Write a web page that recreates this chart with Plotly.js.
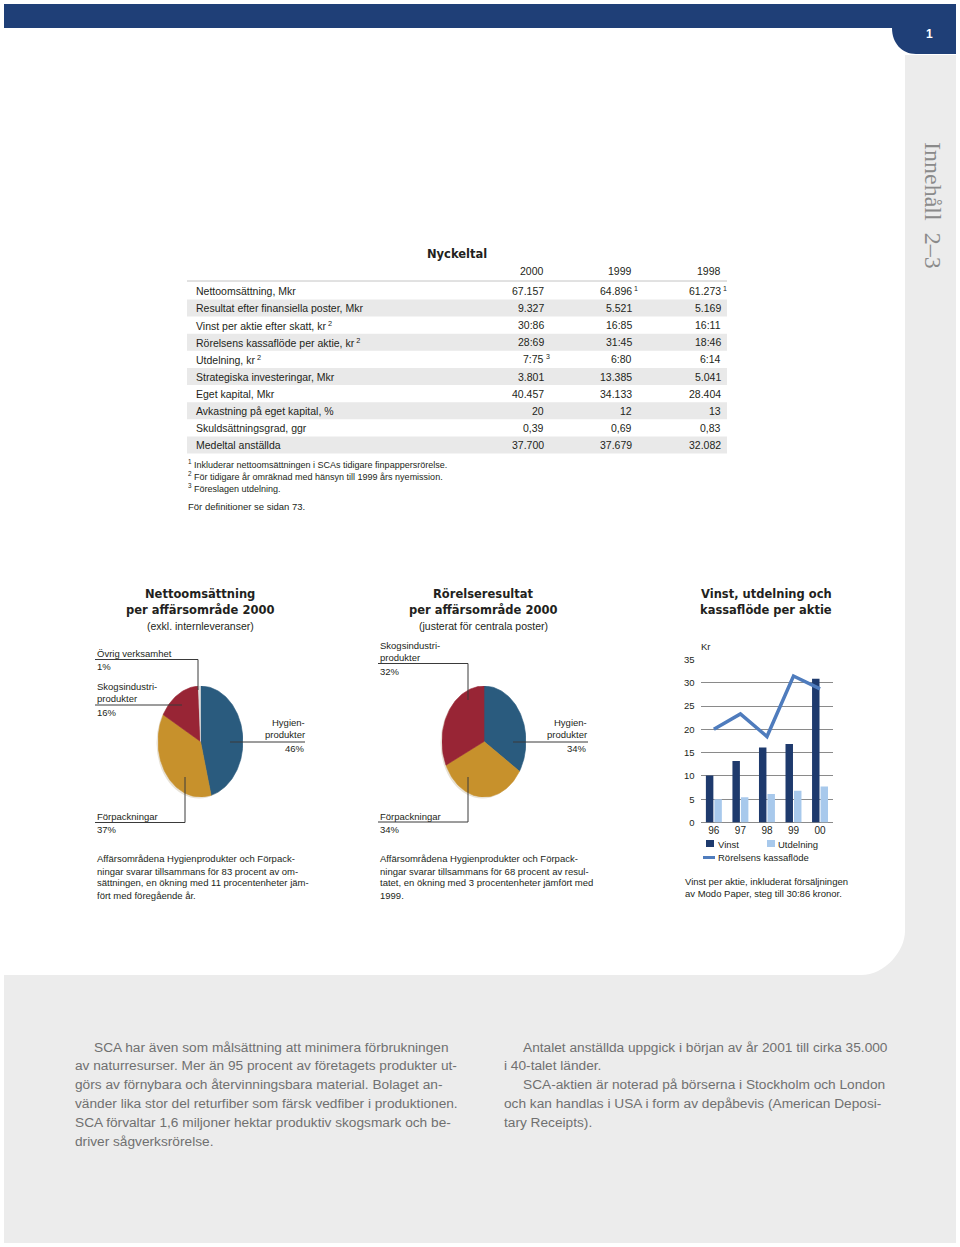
<!DOCTYPE html>
<html>
<head>
<meta charset="utf-8">
<script src="https://cdn.plot.ly/plotly-3.0.1.min.js"></script>
<style>
  html, body { margin: 0; padding: 0; background: #fff; }
  #page { width: 960px; height: 1247px; }
</style>
</head>
<body>
<div id="page"></div>
<script>
// Nyckeltal table
var years = ['2000', '1999', '1998'];
var rowLabels = [
  'Nettoomsättning, Mkr',
  'Resultat efter finansiella poster, Mkr',
  'Vinst per aktie efter skatt, kr\u2009<sup>2</sup>',
  'Rörelsens kassaflöde per aktie, kr\u2009<sup>2</sup>',
  'Utdelning, kr\u2009<sup>2</sup>',
  'Strategiska investeringar, Mkr',
  'Eget kapital, Mkr',
  'Avkastning på eget kapital, %',
  'Skuldsättningsgrad, ggr',
  'Medeltal anställda'
];
var val2000 = ['67.157', '9.327', '30:86', '28:69', '7:75', '3.801', '40.457', '20', '0,39', '37.700'];
var val1999 = ['64.896', '5.521', '16:85', '31:45', '6:80', '13.385', '34.133', '12', '0,69', '37.679'];
var val1998 = ['61.273', '5.169', '16:11', '18:46', '6:14', '5.041', '28.404', '13', '0,83', '32.082'];
var note2000 = ['', '', '', '', '3', '', '', '', '', ''];
var note1999 = ['1', '', '', '', '', '', '', '', '', ''];
var note1998 = ['1', '', '', '', '', '', '', '', '', ''];
var footnotes = [
  '<sup>1</sup> Inkluderar nettoomsättningen i SCAs tidigare finpappersrörelse.',
  '<sup>2</sup> För tidigare år omräknad med hänsyn till 1999 års nyemission.',
  '<sup>3</sup> Föreslagen utdelning.'
];

// pies
var pie1Labels = ['Hygienprodukter', 'Förpackningar', 'Skogsindustriprodukter', 'Övrig verksamhet'];
var pie1Values = [46, 37, 16, 1];
var pie2Labels = ['Hygienprodukter', 'Förpackningar', 'Skogsindustriprodukter'];
var pie2Values = [34, 34, 32];

// bars, kr per aktie
var barYears = ['96', '97', '98', '99', '00'];
var vinst = [10.1, 13.2, 16.11, 16.85, 30.86];
var utdelning = [5.0, 5.4, 6.14, 6.80, 7.75];
var kassaflode = [20.0, 23.3, 18.46, 31.45, 28.69];

var leftText = [
  'SCA har även som målsättning att minimera förbrukningen',
  'av naturresurser. Mer än 95 procent av företagets produkter ut-',
  'görs av förnybara och återvinningsbara material. Bolaget an-',
  'vänder lika stor del returfiber som färsk vedfiber i produktionen.',
  'SCA förvaltar 1,6 miljoner hektar produktiv skogsmark och be-',
  'driver sågverksrörelse.'
];
var rightText = [
  'Antalet anställda uppgick i början av år 2001 till cirka 35.000',
  'i 40-talet länder.',
  'SCA-aktien är noterad på börserna i Stockholm och London',
  'och kan handlas i USA i form av depåbevis (American Deposi-',
  'tary Receipts).'
];

var W = 960, H = 1247;
var SANS = 'Liberation Sans, Arial, sans-serif';
var BOLD = 'DejaVu Sans, sans-serif';
var INK = '#231f20';
var NAVY = '#1f3f77';
var GREY_BG = '#ececec';
var pieColors1 = ['#2a5b7e', '#c7912c', '#982535', '#dedede'];
var pieColors2 = ['#2a5b7e', '#c7912c', '#982535'];

function px(x) { return x / W; }
function py(y) { return 1 - y / H; }
function pt(x, y) { return px(x) + ',' + py(y); }

var annotations = [];
var shapes = [];

function text(t, x, y, o) {
  o = o || {};
  annotations.push({
    xref: 'paper', yref: 'paper', x: px(x), y: py(y), text: t,
    showarrow: false, xanchor: o.anchor || 'left', yanchor: 'middle',
    textangle: o.angle || 0, borderpad: 0,
    font: { family: o.family || SANS, size: o.size || 10, color: o.color || INK }
  });
}
function rect(x0, y0, x1, y1, color, layer) {
  shapes.push({ type: 'rect', xref: 'paper', yref: 'paper', x0: px(x0), x1: px(x1),
    y0: py(y1), y1: py(y0), fillcolor: color, line: { width: 0 }, layer: layer || 'below' });
}
function polyline(pts, color, width) {
  var d = 'M' + pt(pts[0][0], pts[0][1]);
  for (var i = 1; i < pts.length; i++) d += 'L' + pt(pts[i][0], pts[i][1]);
  shapes.push({ type: 'path', xref: 'paper', yref: 'paper', path: d,
    line: { color: color || '#3a3a3a', width: width || 1 }, layer: 'above' });
}

// page frame: grey strip + bottom block with rounded corner, blue bar with tab
var r = 44, k = 0.552 * r;
shapes.push({ type: 'path', xref: 'paper', yref: 'paper', layer: 'below',
  path: 'M' + pt(905, 55) + 'L' + pt(956, 55) + 'L' + pt(956, 1243) + 'L' + pt(4, 1243) +
        'L' + pt(4, 975) + 'L' + pt(905 - r, 975) +
        'C' + pt(905 - r + k, 975) + ' ' + pt(905, 975 - k) + ' ' + pt(905, 975 - r) + 'Z',
  fillcolor: GREY_BG, line: { width: 0 } });
shapes.push({ type: 'path', xref: 'paper', yref: 'paper', layer: 'below',
  path: 'M' + pt(4, 4) + 'L' + pt(956, 4) + 'L' + pt(956, 54) + 'L' + pt(916, 54) +
        'C' + pt(902, 54) + ' ' + pt(892, 43) + ' ' + pt(892, 28) + 'L' + pt(4, 28) + 'Z',
  fillcolor: NAVY, line: { width: 0 } });
text('<b>1</b>', 929, 34, { anchor: 'center', size: 12, color: '#ffffff' });
text('Innehåll  2–3', 933, 205, { anchor: 'center', angle: 90, size: 24,
  family: 'Liberation Serif, serif', color: '#8a8a8a' });

// table
var colX = [545, 633, 722];
var cols = [val2000, val1999, val1998];
var notes = [note2000, note1999, note1998];
text('<b>Nyckeltal</b>', 457, 254, { anchor: 'center', family: BOLD, size: 11.5 });
years.forEach(function (yr, j) { text(yr, colX[j], 271, { anchor: 'right', size: 10.5 }); });
polyline([[187, 281], [727, 281]], '#c4c4c4', 1);
rowLabels.forEach(function (lab, i) {
  var y = 291 + i * 17.1;
  if (i % 2 === 1) rect(187, y - 8.5, 727, y + 8.5, '#e9e9e9');
  text(lab, 195, y, { size: 10.5 });
  cols.forEach(function (c, j) {
    text(c[i], colX[j], y, { anchor: 'right', size: 10.5 });
    if (notes[j][i]) text(notes[j][i], colX[j] - 0.5, y - 2.5, { size: 7 });
  });
});
footnotes.forEach(function (f, i) { text(f, 187, 464 + i * 12, { size: 9 }); });
text('För definitioner se sidan 73.', 187, 506, { size: 9.5 });

// pie slices as filled polygons on their own axes
function sliceTraces(values, colors, xa, ya, names) {
  var total = values.reduce(function (a, b) { return a + b; }, 0);
  var acc = 0, out = [];
  values.forEach(function (v, i) {
    var a0 = acc / total * 2 * Math.PI;
    acc += v;
    var a1 = acc / total * 2 * Math.PI;
    var n = Math.max(4, Math.ceil((a1 - a0) / 0.03));
    var xs = [0], ys = [0];
    for (var s = 0; s <= n; s++) {
      var t = a0 + (a1 - a0) * s / n;
      xs.push(Math.sin(t)); ys.push(Math.cos(t));
    }
    xs.push(0); ys.push(0);
    out.push({ type: 'scatter', mode: 'lines', x: xs, y: ys, fill: 'toself',
      fillcolor: colors[i], line: { color: colors[i], width: 0.6 },
      xaxis: xa, yaxis: ya, name: names[i], hoverinfo: 'name', showlegend: false });
  });
  return out;
}

function pieShadow(x0, y0, x1, y1) {
  shapes.push({ type: 'circle', xref: 'paper', yref: 'paper', layer: 'below',
    x0: px(x0 - 1.5), x1: px(x1 - 1.5), y0: py(y1 + 1.5), y1: py(y0 + 1.5),
    fillcolor: '#e8e2d6', line: { width: 0 } });
}
pieShadow(158, 686, 243, 797);
pieShadow(442, 686, 526, 797);

// pie 1 texts
text('<b>Nettoomsättning</b>', 200, 594, { anchor: 'center', family: BOLD, size: 11.5 });
text('<b>per affärsområde 2000</b>', 200, 610, { anchor: 'center', family: BOLD, size: 11.5 });
text('(exkl. internleveranser)', 200, 626, { anchor: 'center', size: 10.5 });
text('Övrig verksamhet', 96, 653, { size: 9.5 });
text('1%', 96, 666, { size: 9.5 });
text('Skogsindustri-', 96, 686, { size: 9.5 });
text('produkter', 96, 698, { size: 9.5 });
text('16%', 96, 712, { size: 9.5 });
text('Hygien-', 306, 722, { anchor: 'right', size: 9.5 });
text('produkter', 306, 734, { anchor: 'right', size: 9.5 });
text('46%', 306, 748, { anchor: 'right', size: 9.5 });
text('Förpackningar', 96, 816, { size: 9.5 });
text('37%', 96, 829, { size: 9.5 });
polyline([[95, 659.5], [198, 659.5], [198, 690]]);
polyline([[95, 705], [182, 705]]);
polyline([[230, 742], [305, 742]]);
polyline([[95, 822.5], [185, 822.5], [185, 777]]);
['Affärsområdena Hygienprodukter och Förpack-',
 'ningar svarar tillsammans för 83 procent av om-',
 'sättningen, en ökning med 11 procentenheter jäm-',
 'fört med föregående år.'].forEach(function (l, i) { text(l, 96, 859 + i * 12, { size: 9.5 }); });

// pie 2 texts
text('<b>Rörelseresultat</b>', 483, 594, { anchor: 'center', family: BOLD, size: 11.5 });
text('<b>per affärsområde 2000</b>', 483, 610, { anchor: 'center', family: BOLD, size: 11.5 });
text('(justerat för centrala poster)', 483, 626, { anchor: 'center', size: 10.5 });
text('Skogsindustri-', 379, 645, { size: 9.5 });
text('produkter', 379, 657, { size: 9.5 });
text('32%', 379, 671, { size: 9.5 });
text('Hygien-', 588, 722, { anchor: 'right', size: 9.5 });
text('produkter', 588, 734, { anchor: 'right', size: 9.5 });
text('34%', 588, 748, { anchor: 'right', size: 9.5 });
text('Förpackningar', 379, 816, { size: 9.5 });
text('34%', 379, 829, { size: 9.5 });
polyline([[378, 663.5], [468, 663.5], [468, 700]]);
polyline([[513, 742], [588, 742]]);
polyline([[378, 822], [468, 822], [468, 777]]);
['Affärsområdena Hygienprodukter och Förpack-',
 'ningar svarar tillsammans för 68 procent av resul-',
 'tatet, en ökning med 3 procentenheter jämfört med',
 '1999.'].forEach(function (l, i) { text(l, 379, 859 + i * 12, { size: 9.5 }); });

// bar chart texts and hand-placed legend
text('<b>Vinst, utdelning och</b>', 766, 594, { anchor: 'center', family: BOLD, size: 11.5 });
text('<b>kassaflöde per aktie</b>', 766, 610, { anchor: 'center', family: BOLD, size: 11.5 });
text('Kr', 700, 646, { size: 9.5 });
rect(706, 840, 714, 847, '#1e3a6d', 'above');
text('Vinst', 717, 844, { size: 9.5 });
rect(767, 840, 775, 847, '#a8c9ec', 'above');
text('Utdelning', 777, 844, { size: 9.5 });
polyline([[703, 857.5], [715, 857.5]], '#4f7cbd', 3);
text('Rörelsens kassaflöde', 717, 857, { size: 9.5 });
text('Vinst per aktie, inkluderat försäljningen', 684, 881, { size: 9.5 });
text('av Modo Paper, steg till 30:86 kronor.', 684, 893, { size: 9.5 });

// bottom paragraphs
var BODY = { size: 13.7, family: SANS, color: '#707070' };
leftText.forEach(function (l, i) {
  text(l, i === 0 ? 93 : 74, 1047 + i * 18.8, BODY);
});
rightText.forEach(function (l, i) {
  text(l, (i === 0 || i === 2) ? 522 : 503, 1047 + i * 18.8, BODY);
});

var data = [
  { type: 'bar', x: barYears, y: vinst, name: 'Vinst', marker: { color: '#1e3a6d' },
    xaxis: 'x', yaxis: 'y', showlegend: false },
  { type: 'bar', x: barYears, y: utdelning, name: 'Utdelning', marker: { color: '#a8c9ec' },
    xaxis: 'x', yaxis: 'y', showlegend: false },
  { type: 'scatter', mode: 'lines', x: barYears, y: kassaflode, name: 'Rörelsens kassaflöde',
    line: { color: '#4f7cbd', width: 3.5 }, xaxis: 'x', yaxis: 'y', showlegend: false }
].concat(sliceTraces(pie1Values, pieColors1, 'x2', 'y2', pie1Labels))
 .concat(sliceTraces(pie2Values, pieColors2, 'x3', 'y3', pie2Labels));

var hidden = { range: [-1, 1], visible: false, fixedrange: true };
var layout = {
  width: W, height: H,
  margin: { l: 0, r: 0, t: 0, b: 0 },
  paper_bgcolor: '#ffffff', plot_bgcolor: 'rgba(0,0,0,0)',
  font: { family: SANS, color: INK },
  showlegend: false,
  barmode: 'group', bargap: 0.36, bargroupgap: 0.12,
  xaxis: { domain: [px(700.6), px(833.3)], anchor: 'y', type: 'category',
    showgrid: false, ticks: '', showline: false, zeroline: false,
    tickfont: { size: 10, color: INK }, fixedrange: true },
  yaxis: { domain: [py(822.5), py(659.5)], anchor: 'x', range: [0, 35],
    tickvals: [0, 5, 10, 15, 20, 25, 30, 35], ticks: '', showline: false,
    gridcolor: '#8a8a8a', gridwidth: 1, zeroline: true, zerolinecolor: '#8a8a8a', zerolinewidth: 1,
    tickfont: { size: 9.5, color: INK }, ticklabelstandoff: 5, fixedrange: true },
  xaxis2: Object.assign({ domain: [px(158), px(243)], anchor: 'y2' }, hidden),
  yaxis2: Object.assign({ domain: [py(797), py(686)], anchor: 'x2' }, hidden),
  xaxis3: Object.assign({ domain: [px(442), px(526)], anchor: 'y3' }, hidden),
  yaxis3: Object.assign({ domain: [py(797), py(686)], anchor: 'x3' }, hidden),
  shapes: shapes,
  annotations: annotations
};

Plotly.newPlot('page', data, layout, { displayModeBar: false, staticPlot: true });
</script>
</body>
</html>
